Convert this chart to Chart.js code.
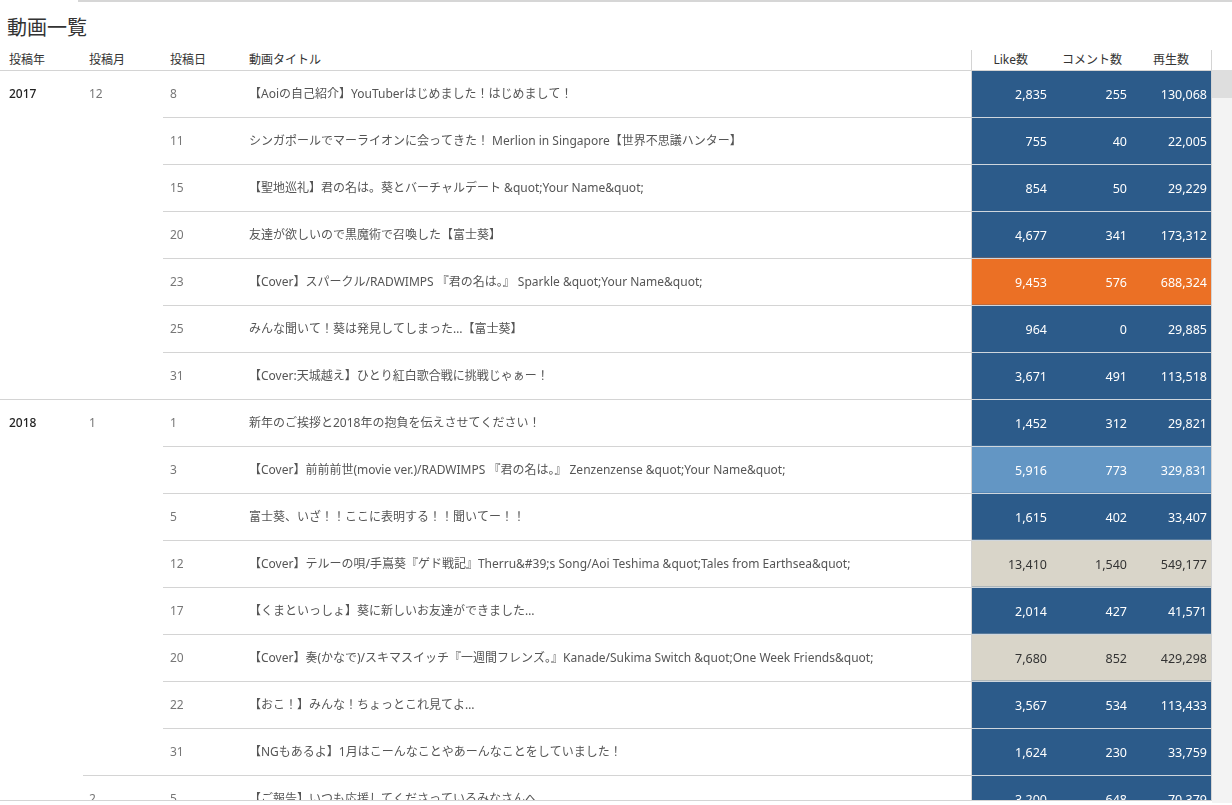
<!DOCTYPE html>
<html lang="ja">
<head>
<meta charset="UTF-8">
<title>動画一覧</title>
<script src="https://cdn.jsdelivr.net/npm/chart.js"></script>
<style>
    body {
        margin: 0;
        background: #fff;
        font-family: "Noto Sans", "Noto Sans CJK JP", sans-serif;
        color: #333;
        width: 1232px;
        height: 805px;
        overflow: hidden;
        position: relative;
    }
    .tabline { position: absolute; left: 78px; top: 0; width: 1154px; height: 2px; background: #d6d6d6; }
    .titulo { position: absolute; left: 7px; top: 14px; font-size: 20px; line-height: 28px; color: #333; }
    .cab { position: absolute; top: 51px; font-size: 12px; line-height: 18px; color: #333; white-space: nowrap; }
    .cab.dir { text-align: right; }
    .linha-cab { position: absolute; left: 0; top: 70px; width: 1212px; height: 1px; background: #d4d4d4; }
    .vline { position: absolute; top: 50px; width: 1px; height: 750px; background: #d4d4d4; }
    .corpo { position: absolute; left: 0; top: 70px; width: 1212px; height: 730px; overflow: hidden; }
    .grafico { position: absolute; left: 0; top: 0; width: 1212px; height: 752px; }
    .rodape { position: absolute; left: 0; top: 800px; width: 1212px; height: 1px; background: #d4d4d4; }
    .scroll { position: absolute; left: 1212px; top: 70px; width: 20px; height: 733px; background: #f3f3f3; }
    .thumb { position: absolute; left: 1212px; top: 70px; width: 20px; height: 28px; background: #dedede; }
</style>
</head>
<body>
<div class="tabline"></div>
<div class="titulo">動画一覧</div>
<div class="cab" style="left:9px">投稿年</div>
<div class="cab" style="left:89px">投稿月</div>
<div class="cab" style="left:170px">投稿日</div>
<div class="cab" style="left:249px">動画タイトル</div>
<div class="cab dir" style="right:204px">Like数</div>
<div class="cab dir" style="right:110px">コメント数</div>
<div class="cab dir" style="right:43px">再生数</div>

<div class="corpo">
    <div class="grafico"><canvas id="grafico"></canvas></div>
</div>
<div class="linha-cab"></div>
<div class="vline" style="left:971px"></div>
<div class="vline" style="left:1211px"></div>
<div class="rodape"></div>
<div class="scroll"></div>
<div class="thumb"></div>

<script>
    // dados da tabela
    const anos = ['2017', '', '', '', '', '', '', '2018', '', '', '', '', '', '', '', ''];
    const meses = ['12', '', '', '', '', '', '', '1', '', '', '', '', '', '', '', '2'];
    const dias = ['8', '11', '15', '20', '23', '25', '31', '1', '3', '5', '12', '17', '20', '22', '31', '5'];
    const titulos = [
        '【Aoiの自己紹介】YouTuberはじめました！はじめまして！',
        'シンガポールでマーライオンに会ってきた！ Merlion in Singapore【世界不思議ハンター】',
        '【聖地巡礼】君の名は。葵とバーチャルデート &quot;Your Name&quot;',
        '友達が欲しいので黒魔術で召喚した【富士葵】',
        '【Cover】スパークル/RADWIMPS 『君の名は。』 Sparkle &quot;Your Name&quot;',
        'みんな聞いて！葵は発見してしまった…【富士葵】',
        '【Cover:天城越え】ひとり紅白歌合戦に挑戦じゃぁー！',
        '新年のご挨拶と2018年の抱負を伝えさせてください！',
        '【Cover】前前前世(movie ver.)/RADWIMPS 『君の名は。』 Zenzenzense &quot;Your Name&quot;',
        '富士葵、いざ！！ここに表明する！！聞いてー！！',
        '【Cover】テルーの唄/手嶌葵『ゲド戦記』Therru&#39;s Song/Aoi Teshima &quot;Tales from Earthsea&quot;',
        '【くまといっしょ】葵に新しいお友達ができました…',
        '【Cover】奏(かなで)/スキマスイッチ『一週間フレンズ。』Kanade/Sukima Switch &quot;One Week Friends&quot;',
        '【おこ！】みんな！ちょっとこれ見てよ…',
        '【NGもあるよ】1月はこーんなことやあーんなことをしていました！',
        '【ご報告】いつも応援してくださっているみなさんへ'
    ];
    const likes = [2835, 755, 854, 4677, 9453, 964, 3671, 1452, 5916, 1615, 13410, 2014, 7680, 3567, 1624, 3200];
    const comentarios = [255, 40, 50, 341, 576, 0, 491, 312, 773, 402, 1540, 427, 852, 534, 230, 648];
    const visualizacoes = [130068, 22005, 29229, 173312, 688324, 29885, 113518, 29821, 329831, 33407, 549177, 41571, 429298, 113433, 33759, 70379];
    const grupos = ['A', 'A', 'A', 'A', 'C', 'A', 'A', 'A', 'B', 'A', 'D', 'A', 'D', 'A', 'A', 'A'];

    const coresGrupo = { A: '#2c5b8a', B: '#6396c4', C: '#eb7025', D: '#d9d5c9' };
    const textoGrupo = { A: '#ffffff', B: '#ffffff', C: '#ffffff', D: '#333333' };

    // posições das colunas (x em px)
    const COL = { ano: 9, mes: 89, dia: 170, titulo: 249, cellL: 972, cellR: 1211, like: 1047, coment: 1127, vis: 1207 };
    const fmt = n => n.toLocaleString('en-US');
    const linhas = dias.map((d, i) => 'r' + i);

    const textoPlugin = {
        id: 'textoTabela',
        afterDatasetsDraw(chart) {
            const { ctx, scales: { x, y } } = chart;
            ctx.save();
            // separadores
            linhas.forEach((l, i) => {
                if (i === 0) return;
                const topo = Math.round(y.getPixelForValue(i) - 23.5);
                let x0 = COL.dia - 7;
                if (anos[i]) x0 = 0;
                else if (meses[i]) x0 = COL.mes - 6;
                ctx.fillStyle = '#d4d4d4';
                ctx.fillRect(x.getPixelForValue(x0), topo, x.getPixelForValue(COL.cellL) - x.getPixelForValue(x0), 1);
                ctx.fillStyle = '#cfd6dd';
                ctx.fillRect(x.getPixelForValue(COL.cellL), topo, x.getPixelForValue(COL.cellR) - x.getPixelForValue(COL.cellL), 1);
            });
            ctx.textBaseline = 'middle';
            linhas.forEach((l, i) => {
                const cy = y.getPixelForValue(i) + 1.5;
                ctx.textAlign = 'left';
                ctx.font = '500 12px "Noto Sans", "Noto Sans CJK JP"';
                ctx.fillStyle = '#222';
                if (anos[i]) ctx.fillText(anos[i], x.getPixelForValue(COL.ano), cy);
                ctx.font = '12px "Noto Sans", "Noto Sans CJK JP"';
                ctx.fillStyle = '#777';
                if (meses[i]) ctx.fillText(meses[i], x.getPixelForValue(COL.mes), cy);
                ctx.fillText(dias[i], x.getPixelForValue(COL.dia), cy);
                ctx.fillStyle = '#555';
                ctx.fillText(titulos[i], x.getPixelForValue(COL.titulo), cy);
                ctx.textAlign = 'right';
                ctx.font = '12.5px "Noto Sans", "Noto Sans CJK JP"';
                ctx.fillStyle = textoGrupo[grupos[i]];
                ctx.fillText(fmt(likes[i]), x.getPixelForValue(COL.like), cy);
                ctx.fillText(fmt(comentarios[i]), x.getPixelForValue(COL.coment), cy);
                ctx.fillText(fmt(visualizacoes[i]), x.getPixelForValue(COL.vis), cy);
            });
            ctx.restore();
        }
    };

    new Chart(document.getElementById('grafico'), {
        type: 'bar',
        data: {
            labels: linhas,
            datasets: [{
                data: linhas.map(() => [COL.cellL, COL.cellR]),
                backgroundColor: grupos.map(g => coresGrupo[g]),
                borderWidth: 0,
                borderSkipped: false,
                barPercentage: 1,
                categoryPercentage: 1
            }]
        },
        options: {
            indexAxis: 'y',
            responsive: true,
            maintainAspectRatio: false,
            animation: false,
            layout: { padding: 0 },
            plugins: { legend: { display: false }, tooltip: { enabled: false } },
            scales: {
                x: { type: 'linear', min: 0, max: 1212, display: false },
                y: { display: false }
            }
        },
        plugins: [textoPlugin]
    });
</script>
</body>
</html>
